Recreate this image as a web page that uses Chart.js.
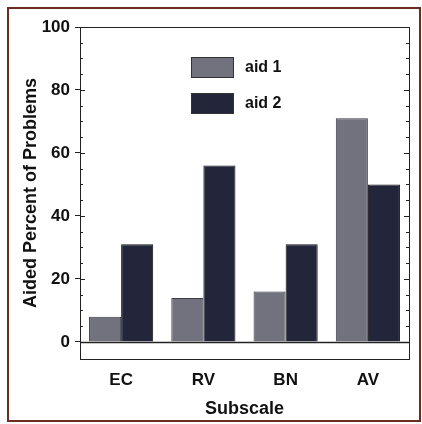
<!DOCTYPE html>
<html>
<head>
<meta charset="utf-8">
<script src="https://cdn.jsdelivr.net/npm/chart.js@4"></script>
<style>
  html, body { margin: 0; padding: 0; background: #fff; }
  #wrap { width: 422px; height: 424px; }
</style>
</head>
<body>
<div id="wrap"><canvas id="chart" width="422" height="424"></canvas></div>
<script>
const categories = ["EC", "RV", "BN", "AV"];
const aid1 = [8, 14, 16, 71];
const aid2 = [31, 56, 31, 50];
const yTicks = [0, 20, 40, 60, 80, 100];
const minorStep = 5;

const FONT = "'Liberation Sans', Arial, sans-serif";

// frame, zero line, minor ticks and the legend inside the plot
const decor = {
  id: "decor",
  afterDraw(chart) {
    const ctx = chart.ctx;
    const a = chart.chartArea;
    const y = chart.scales.y;
    ctx.save();

    // outer border of the picture
    ctx.strokeStyle = "#6b2c22";
    ctx.lineWidth = 2;
    ctx.strokeRect(8, 8, 412, 413);

    // plot box
    ctx.strokeStyle = "#222";
    ctx.lineWidth = 1;
    ctx.strokeRect(a.left + 0.5, a.top + 0.5, a.right - a.left, a.bottom - a.top);

    // zero line
    const y0 = Math.round(y.getPixelForValue(0)) + 0.5;
    ctx.lineWidth = 1.5;
    ctx.beginPath();
    ctx.moveTo(a.left, y0);
    ctx.lineTo(a.right, y0);
    ctx.stroke();

    // minor ticks, inward, both sides
    ctx.lineWidth = 1;
    for (let v = 0; v <= 100; v += minorStep) {
      const py = Math.round(y.getPixelForValue(v)) + 0.5;
      const len = v % 20 === 0 ? 5 : 3;
      ctx.beginPath();
      ctx.moveTo(a.left, py);
      ctx.lineTo(a.left + len, py);
      ctx.moveTo(a.right, py);
      ctx.lineTo(a.right - len, py);
      ctx.stroke();
    }

    // legend
    ctx.font = "bold 16px " + FONT;
    ctx.textBaseline = "middle";
    chart.data.datasets.forEach((ds, i) => {
      const bx = a.left + 111;
      const by = a.top + 30 + i * 36;
      ctx.fillStyle = ds.backgroundColor;
      ctx.fillRect(bx, by, 42, 20);
      ctx.strokeStyle = "#333";
      ctx.strokeRect(bx + 0.5, by + 0.5, 42, 20);
      ctx.fillStyle = "#111";
      ctx.fillText(ds.label, bx + 54, by + 11);
    });

    ctx.restore();
  }
};

new Chart(document.getElementById("chart"), {
  type: "bar",
  data: {
    labels: categories,
    datasets: [
      { label: "aid 1", data: aid1, backgroundColor: "#72727e", borderColor: "#3a3a44", borderWidth: 1 },
      { label: "aid 2", data: aid2, backgroundColor: "#23263a", borderColor: "#111", borderWidth: 1 }
    ]
  },
  options: {
    responsive: false,
    animation: false,
    devicePixelRatio: 1,
    layout: { padding: { top: 27, right: 13, left: 20, bottom: 0 } },
    plugins: {
      legend: { display: false },
      tooltip: { enabled: false }
    },
    datasets: {
      bar: { categoryPercentage: 0.78, barPercentage: 1.0 }
    },
    scales: {
      x: {
        grid: { display: false },
        border: { display: false },
        ticks: { color: "#111", font: { family: FONT, size: 17, weight: "bold" }, padding: 3 },
        title: { display: true, text: "Subscale", color: "#111", font: { family: FONT, size: 18, weight: "bold" }, padding: { top: 0, bottom: 4 } },
        afterFit(s) { s.height = 65; }
      },
      y: {
        min: -5.4,
        max: 100,
        afterBuildTicks(s) { s.ticks = yTicks.map(v => ({ value: v })); },
        grid: { drawOnChartArea: false, tickLength: 5, color: "#222" },
        border: { display: false },
        ticks: { color: "#111", font: { family: FONT, size: 17, weight: "bold" }, padding: 5 },
        title: { display: true, text: "Aided Percent of Problems", color: "#111", font: { family: FONT, size: 18, weight: "bold" }, padding: { top: 0, bottom: 0 } },
        afterFit(s) { s.width = 60; }
      }
    }
  },
  plugins: [decor]
});
</script>
</body>
</html>
